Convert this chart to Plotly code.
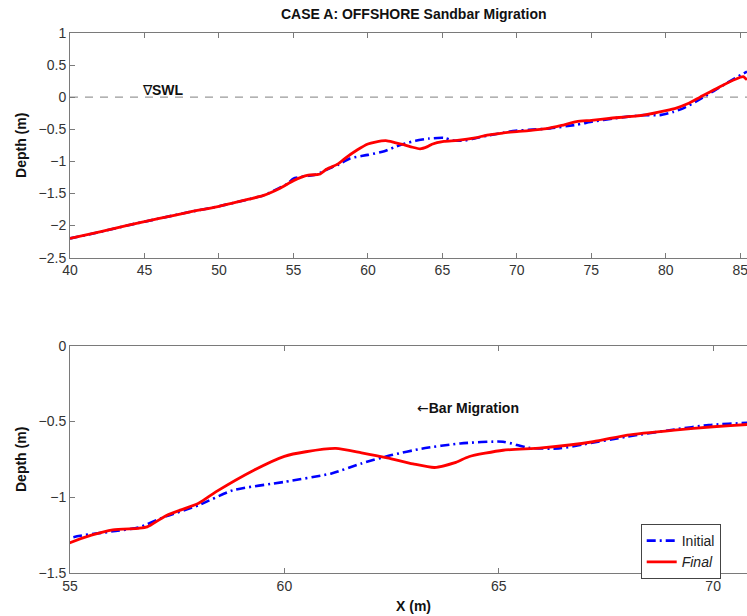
import plotly.graph_objects as go

# ---- data ----
x_initial = [40, 42, 44, 46, 48, 50, 52, 53, 54, 54.6, 55, 56, 56.6, 57.2, 58, 58.8, 60, 61.1, 61.8,
             62.5, 63.2, 64.1, 65.1, 65.7, 66.4, 67, 68, 69.1, 69.9, 70.8, 72, 74, 75.1, 76.5, 78.5,
             79.6, 80.5, 81.2, 82.3, 84.1, 85.45]
y_initial = [-2.20, -2.10, -1.99, -1.89, -1.79, -1.70, -1.59, -1.53, -1.42, -1.35, -1.27, -1.225, -1.20,
             -1.13, -1.053, -0.954, -0.899, -0.843, -0.777, -0.722, -0.68, -0.645, -0.634, -0.674,
             -0.678, -0.65, -0.60, -0.553, -0.524, -0.509, -0.49, -0.43, -0.38, -0.33, -0.28, -0.28,
             -0.23, -0.17, -0.03, 0.22, 0.40]

x_final = [40, 42, 44, 46, 48, 50, 52, 53, 54, 55, 55.5, 56, 56.6, 56.8, 57.25, 58, 58.4, 59.3, 60,
           60.5, 61.2, 61.8, 62.4, 63, 63.5, 64, 64.3, 65.1, 66, 67.2, 68, 69.1, 70, 70.8, 72, 73, 74,
           75, 76.2, 78.5, 80, 80.7, 81.5, 82.3, 83.6, 85, 85.2, 85.45]
y_final = [-2.20, -2.10, -1.99, -1.89, -1.79, -1.70, -1.59, -1.53, -1.43, -1.30, -1.25, -1.215, -1.205,
           -1.196, -1.12, -1.04, -0.965, -0.82, -0.73, -0.70, -0.678, -0.707, -0.74, -0.78, -0.804,
           -0.77, -0.733, -0.69, -0.674, -0.634, -0.59, -0.557, -0.535, -0.52, -0.49, -0.44, -0.38,
           -0.36, -0.33, -0.28, -0.21, -0.17, -0.10, 0.0, 0.16, 0.31, 0.32, 0.27]

top_xticks = [40, 45, 50, 55, 60, 65, 70, 75, 80, 85]
top_yticks = [1, 0.5, 0, -0.5, -1, -1.5, -2, -2.5]
bot_xticks = [55, 60, 65, 70]
bot_yticks = [0, -0.5, -1, -1.5]

FONT = "Liberation Sans"
BLUE = "#0000FF"
RED = "#FF0000"
AX = "#7a7a7a"

fig = go.Figure()

for xa, ya, show in (("x", "y", False), ("x2", "y2", True)):
    fig.add_trace(go.Scatter(x=x_initial, y=y_initial, mode="lines",
                             name='<span style="font-style:normal">Initial</span>',
                             line=dict(color=BLUE, width=2.6, dash="9px,4px,2px,4px", shape="spline", smoothing=0.6),
                             xaxis=xa, yaxis=ya, showlegend=show))
    fig.add_trace(go.Scatter(x=x_final, y=y_final, mode="lines", name="<i>Final</i>",
                             line=dict(color=RED, width=2.8, shape="spline", smoothing=0.6),
                             xaxis=xa, yaxis=ya, showlegend=show))

axis_common = dict(showline=True, linecolor=AX, linewidth=1, ticks="inside", ticklen=5,
                   tickcolor=AX, tickfont=dict(family=FONT, size=14, color="#333333"),
                   showgrid=False, zeroline=False, ticklabeloverflow="allow")

fig.update_layout(
    width=747, height=616,
    margin=dict(l=70, r=0, t=33, b=43),
    paper_bgcolor="white", plot_bgcolor="white",
    font=dict(family=FONT, size=14, color="#222222"),
    xaxis=dict(domain=[0, 1], range=[40, 85.45], tickvals=top_xticks, anchor="y", mirror="ticks", **axis_common),
    yaxis=dict(domain=[0.584, 1], range=[-2.5, 1], tickvals=top_yticks, anchor="x",
               title=dict(text="<b>Depth (m)</b>", font=dict(family=FONT, size=14, color="#111111"), standoff=8),
               **axis_common),
    xaxis2=dict(domain=[0, 1], range=[55, 70.79], tickvals=bot_xticks, anchor="y2", mirror="ticks", **axis_common),
    yaxis2=dict(domain=[0, 0.421], range=[-1.5, 0], tickvals=bot_yticks, anchor="x2",
                title=dict(text="<b>Depth (m)</b>", font=dict(family=FONT, size=14, color="#111111"), standoff=8),
                **axis_common),
    legend=dict(x=0.843, y=0.0907, xanchor="left", yanchor="top", bgcolor="white",
                bordercolor="#444444", borderwidth=1, font=dict(family=FONT, size=14, color="#222222"),
                tracegroupgap=0, itemwidth=30),
    showlegend=True,
)

fig.add_shape(type="line", xref="x domain", yref="y", x0=0, x1=1, y0=0, y1=0,
              line=dict(color="#999999", width=1.2, dash="8px,7px"), layer="below")

fig.add_annotation(x=44.7, y=0.0, xref="x", yref="y", text="∇<b>SWL</b>", showarrow=False,
                   xanchor="left", yanchor="bottom", yshift=-3,
                   font=dict(family=FONT, size=14, color="#111111"))
fig.add_annotation(x=63.04, y=-0.41, xref="x2", yref="y2", text="←<b>Bar Migration</b>", showarrow=False,
                   xanchor="left", yanchor="middle",
                   font=dict(family="DejaVu Sans", size=14, color="#111111"))
fig.layout.annotations[-1].update(text='<span style="font-family:DejaVu Sans">←</span><b style="font-family:Liberation Sans">Bar Migration</b>')
fig.add_annotation(x=(414 - 70) / 677, y=(573 - 14) / 540, xref="paper", yref="paper",
                   text="<b>CASE A: OFFSHORE Sandbar Migration</b>", showarrow=False,
                   xanchor="center", yanchor="middle", font=dict(family=FONT, size=14, color="#111111"))
fig.add_annotation(x=(413 - 70) / 677, y=(573 - 606) / 540, xref="paper", yref="paper", text="<b>X (m)</b>",
                   showarrow=False, xanchor="center", yanchor="middle",
                   font=dict(family=FONT, size=14, color="#111111"))

fig.write_html("out.html")
